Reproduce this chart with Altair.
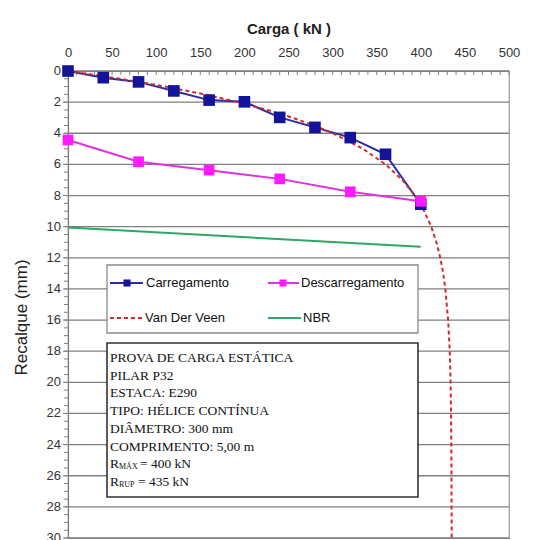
import altair as alt
import pandas as pd

# ---- data ----
carga_carregamento = [0, 40, 80, 120, 160, 200, 240, 280, 320, 360, 400]
recalque_carregamento = [0.0, 0.43, 0.70, 1.28, 1.87, 1.98, 2.98, 3.62, 4.28, 5.35, 8.56]

carga_descarregamento = [400, 320, 240, 160, 80, 0]
recalque_descarregamento = [8.37, 7.76, 6.93, 6.37, 5.83, 4.43]

recalque_vdv = [0, 0.5, 1, 1.5, 2, 2.5, 3, 3.5, 4, 5, 6, 7, 8, 9, 10, 11, 12, 13, 14,
                16, 18, 20, 22, 24, 26, 28, 30]
carga_vdv = [0, 59.3, 110.5, 154.7, 192.9, 225.9, 254.4, 279.0, 300.3, 334.5, 360.0,
             379.1, 393.3, 403.9, 411.8, 417.7, 422.1, 425.4, 427.8, 431.0, 432.8,
             433.8, 434.3, 434.6, 434.8, 434.9, 435.0]

carga_nbr = [0, 400]
recalque_nbr = [10.06, 11.29]

x_ticks = [0, 50, 100, 150, 200, 250, 300, 350, 400, 450, 500]
x_minor = list(range(0, 501, 10))
y_ticks = list(range(0, 31, 2))
y_minor = [i * 0.5 for i in range(0, 61)]

legend_labels = ["Carregamento", "Descarregamento", "Van Der Veen", "NBR"]
info_lines = ["PROVA DE CARGA ESTÁTICA", "PILAR P32", "ESTACA: E290",
              "TIPO: HÉLICE CONTÍNUA", "DIÂMETRO: 300 mm", "COMPRIMENTO: 5,00 m"]
r_max = ["R", "MÁX", "= 400 kN"]
r_rup = ["R", "RUP", "= 435 kN"]

# ---- tables ----
df_load = pd.DataFrame({"carga": carga_carregamento, "recalque": recalque_carregamento,
                        "ordem": list(range(len(carga_carregamento)))})
df_unload = pd.DataFrame({"carga": carga_descarregamento, "recalque": recalque_descarregamento,
                          "ordem": list(range(len(carga_descarregamento)))})
df_vdv = pd.DataFrame({"carga": carga_vdv, "recalque": recalque_vdv,
                       "ordem": list(range(len(carga_vdv)))})
df_nbr = pd.DataFrame({"carga": carga_nbr, "recalque": recalque_nbr, "ordem": [0, 1]})
df_xminor = pd.DataFrame({"carga": x_minor})
df_yminor = pd.DataFrame({"recalque": y_minor})
df_yticks = pd.DataFrame({"recalque": y_ticks, "rotulo": [str(v) for v in y_ticks]})
one = pd.DataFrame({"a": [0]})

FONT = "Liberation Sans"
SERIF = "Liberation Serif"
NAVY = "#14149a"
BLUE_LINE = "#2a2aa8"
MAGENTA = "#ff1aff"
MAG_LINE = "#dd33dd"
RED = "#d42a2a"
GREEN = "#2ea866"
GRID = "#7f7f7f"

W, H = 441, 467

xs = alt.Scale(domain=[0, 500], nice=False, zero=False)
ys = alt.Scale(domain=[0, 30], reverse=True, nice=False, zero=False)

x_axis = alt.Axis(orient="top", values=x_ticks, title="Carga ( kN )", titleFont=FONT,
                  titleFontSize=15, titleFontWeight="bold", titleColor="#222222",
                  labelFont=FONT, labelFontSize=13, labelColor="#333333", ticks=False,
                  domainColor=GRID, domainWidth=1.2, labelPadding=12, titlePadding=10,
                  grid=False, labelOverlap=False)
y_axis = alt.Axis(values=y_ticks, title="Recalque (mm)", titleFont=FONT,
                  titleFontSize=17,
                  titleFontWeight="normal", titleColor="#222222", titleAngle=270,
                  titleX=-47, titleY=246, titleAlign="center", titleBaseline="middle",
                  labels=False, ticks=False, grid=False,
                  domainColor=GRID, domainWidth=1.2)

X = alt.X("carga:Q", scale=xs, axis=x_axis)
Y = alt.Y("recalque:Q", scale=ys, axis=y_axis)
Xn = alt.X("carga:Q", scale=xs)
Yn = alt.Y("recalque:Q", scale=ys)

axes_layer = alt.Chart(df_load).mark_point(opacity=0).encode(x=X, y=Y)

# horizontal gridlines, major ticks and labels of the y axis
y_grid = alt.Chart(df_yticks).mark_rule(color=GRID, strokeWidth=1.3).encode(
    y=Yn, x=alt.value(0), x2=alt.value(W))
y_major = alt.Chart(df_yticks).mark_rule(color=GRID, strokeWidth=1).encode(
    y=Yn, x=alt.value(-5), x2=alt.value(0))
y_labels = alt.Chart(df_yticks).mark_text(align="right", baseline="middle", font=FONT,
                                          fontSize=13, color="#333333").encode(
    y=Yn, x=alt.value(-7), text="rotulo:N")

x_minor_layer = alt.Chart(df_xminor).mark_rule(color=GRID, strokeWidth=1).encode(
    x=Xn, y=alt.value(0), y2=alt.value(4))
y_minor_layer = alt.Chart(df_yminor).mark_rule(color=GRID, strokeWidth=1).encode(
    y=Yn, x=alt.value(-4), x2=alt.value(0))

load_line = alt.Chart(df_load).mark_line(color=BLUE_LINE, strokeWidth=2).encode(
    x=Xn, y=Yn, order="ordem:Q")
vdv_line = alt.Chart(df_vdv).mark_line(color=RED, strokeWidth=2, strokeDash=[4, 3]).encode(
    x=Xn, y=Yn, order="ordem:Q")
load_pts = alt.Chart(df_load).mark_point(shape="square", filled=True, size=135, color=NAVY,
                                         opacity=1).encode(x=Xn, y=Yn)
unload_line = alt.Chart(df_unload).mark_line(color=MAG_LINE, strokeWidth=2).encode(
    x=Xn, y=Yn, order="ordem:Q")
unload_pts = alt.Chart(df_unload).mark_point(shape="square", filled=True, size=115,
                                             color=MAGENTA, opacity=1).encode(x=Xn, y=Yn)
nbr_line = alt.Chart(df_nbr).mark_line(color=GREEN, strokeWidth=2).encode(
    x=Xn, y=Yn, order="ordem:Q")

# ---- legend / info box (pixel layout) ----
def rect(x1, x2, y1, y2, stroke, sw):
    return alt.Chart(one).mark_rect(fill="white", stroke=stroke, strokeWidth=sw).encode(
        x=alt.value(x1), x2=alt.value(x2), y=alt.value(y1), y2=alt.value(y2))

def hline(x1, x2, y, color, dash=None):
    kw = dict(color=color, strokeWidth=2)
    if dash:
        kw["strokeDash"] = dash
    return alt.Chart(one).mark_rule(**kw).encode(
        x=alt.value(x1), x2=alt.value(x2), y=alt.value(y))

def sq(x, y, color, size):
    return alt.Chart(one).mark_point(shape="square", filled=True, size=size, color=color,
                                     opacity=1).encode(x=alt.value(x), y=alt.value(y))

def txt(x, y, t, font=FONT, size=13, dy=0):
    return alt.Chart(one).mark_text(align="left", baseline="middle", font=font,
                                    fontSize=size, color="#111111", dy=dy).encode(
        x=alt.value(x), y=alt.value(y), text=alt.value(t))

r1, r2 = 212, 247
legend = [
    rect(39, 350, 194, 262, "#8a8a8a", 1.3),
    hline(42, 75, r1, BLUE_LINE), sq(59, r1, NAVY, 50), txt(78, r1, legend_labels[0]),
    hline(200, 231, r1, MAG_LINE), sq(215, r1, MAGENTA, 50), txt(233, r1, legend_labels[1]),
    hline(42, 75, r2, RED, [4, 3]), txt(77, r2, legend_labels[2]),
    hline(200, 233, r2, GREEN), txt(235, r2, legend_labels[3]),
]

info = [
    rect(39, 350, 272, 426, "#333333", 1.6),
    alt.Chart(one).mark_text(align="left", baseline="middle", font=SERIF, fontSize=13.5,
                             color="#111111", lineHeight=17.7).encode(
        x=alt.value(42), y=alt.value(287), text=alt.value(info_lines)),
    txt(42, 393, r_max[0], SERIF, 13.5), txt(51, 393, r_max[1], SERIF, 8, dy=3),
    txt(72, 393, r_max[2], SERIF, 13.5),
    txt(42, 410.7, r_rup[0], SERIF, 13.5), txt(51, 410.7, r_rup[1], SERIF, 8, dy=3),
    txt(70, 410.7, r_rup[2], SERIF, 13.5),
]

chart = alt.layer(
    axes_layer, y_grid, y_major, y_labels, x_minor_layer, y_minor_layer, nbr_line,
    load_line, vdv_line, load_pts, unload_line, unload_pts, *legend, *info
).properties(
    width=W, height=H,
    autosize=alt.AutoSizeParams(type="none"),
    padding={"left": 60, "top": 63, "right": 40, "bottom": 2},
    background="white",
).configure_view(
    stroke="#9a9a9a", strokeWidth=1.2
).configure_axis(
    labelOverlap=False, labelFlush=False, labelBound=False
)

chart.save("out.html", embed_options={"renderer": "svg", "actions": False})
